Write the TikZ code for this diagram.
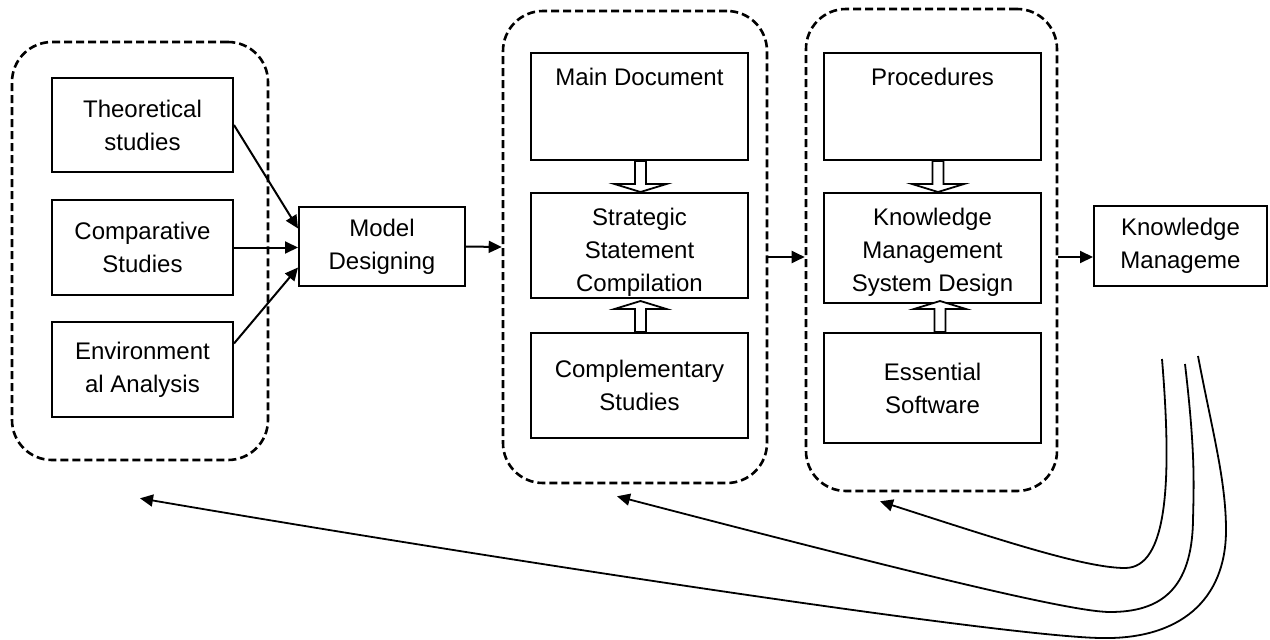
\documentclass[tikz,border=0pt]{standalone}
\usepackage{fontspec}
\setmainfont{Liberation Sans}
\usetikzlibrary{arrows.meta,calc}
\newcommand{\boxfont}{\fontsize{24}{33}\selectfont}
\newcommand{\hollowdown}[2]{\draw[hollow] ($(#1)+(#2-5.5,0)$) -- ++(0,23) -- ++(-20.5,0) -- ++(26,8) -- ++(26,-8) -- ++(-20.5,0) -- ++(0,-23) -- cycle;}
\newcommand{\hollowup}[2]{\draw[hollow] ($(#1)+(#2-5.5,0)$) -- ++(0,-23) -- ++(-20.5,0) -- ++(26,-8) -- ++(26,8) -- ++(-20.5,0) -- ++(0,23) -- cycle;}

\begin{document}
\begin{tikzpicture}[x=1pt,y=-1pt,>={Triangle[length=13pt,width=12pt]},
box/.style={draw,line width=2pt,align=center,inner sep=0pt,font=\boxfont},
group/.style={draw,line width=2.6pt,dash pattern=on 8pt off 4pt,rounded corners=40pt,inner sep=0pt},
hollow/.style={draw,line width=1.8pt,fill=white},
arr/.style={->,line width=2pt},
fb/.style={->,line width=1.8pt}]
\useasboundingbox (0,0) rectangle (1270,640);
% dashed groups
\node[group,minimum width=256pt,minimum height=418pt] (grpA) at (140,251) {};
\node[group,minimum width=264pt,minimum height=472pt] (grpB) at (635,247) {};
\node[group,minimum width=251pt,minimum height=482pt] (grpC) at (931.5,250) {};
% first group
\node[box,minimum width=181pt,minimum height=94pt] (theo) at (142.5,125) {Theoretical\\studies};
\node[box,minimum width=181pt,minimum height=95pt] (comp) at (142.5,247.5) {Comparative\\Studies};
\node[box,minimum width=181pt,minimum height=95pt] (env) at (142.5,369.5) {Environment\\al Analysis};
\node[box,minimum width=166pt,minimum height=79pt] (model) at (382,246.5) {Model\\Designing};
% second group
\node[box,minimum width=217pt,text height=32pt,text depth=75pt] (maindoc) at (639.5,106.5) {Main Document};
\node[box,minimum width=217pt,minimum height=105pt] (strat) at (639.5,245.5) {\rule{0pt}{30pt}Strategic\\Statement\\Compilation};
\node[box,minimum width=217pt,minimum height=105pt] (compl) at (639.5,385.5) {Complementary\\Studies};
% third group
\node[box,minimum width=217pt,text height=32pt,text depth=75pt] (proc) at (932.5,106.5) {Procedures};
\node[box,minimum width=217pt,minimum height=110pt] (kmsd) at (932.5,248) {\rule{0pt}{26pt}Knowledge\\Management\\System Design};
\node[box,minimum width=217pt,minimum height=110pt] (soft) at (932.5,388) {Essential\\Software};
\node[box,minimum width=173pt,minimum height=80pt] (km) at (1180.5,246) {Knowledge\\Manageme};
% hollow arrows
\hollowdown{maindoc.south}{1}
\hollowup{compl.north}{1}
\hollowdown{proc.south}{5.5}
\hollowup{soft.north}{7.5}
% arrows
\draw[arr] (theo.east) -- ([yshift=18pt]model.west);
\draw[arr] (comp.east) -- (comp.east -| model.west);
\draw[arr] ([yshift=26pt]env.east) -- ([yshift=-21pt]model.west);
\draw[arr] (model.east) -- (grpB.west);
\coordinate (j) at ([yshift=-7pt]grpC.west);
\draw[arr] (j -| grpB.east) -- (j);
\coordinate (k) at ([yshift=-11pt]km.west);
\draw[arr] (k -| grpC.east) -- (k);
% feedback
\coordinate (s1) at ([shift={(-18.5pt,-72pt)}]km.south);
\coordinate (s2) at ([shift={(4.5pt,-77pt)}]km.south);
\coordinate (s3) at ([shift={(17.5pt,-69pt)}]km.south);
\coordinate (fbA) at ([yshift=-37pt]grpA.south);
\coordinate (fbB) at ([shift={(-18pt,-12pt)}]grpB.south);
\coordinate (fbC) at ([shift={(-51.5pt,-9pt)}]grpC.south);
\draw[fb] (s1) .. controls (1172,480) and (1168,568) .. (1125,568) .. controls (1085,568) and (1000,540) .. (fbC);
\draw[fb] (s2) .. controls (1195,450) and (1194,480) .. (1193,520) .. controls (1192,590) and (1160,612) .. (1110,612) .. controls (1070,612) and (900,570) .. (fbB);
\draw[fb] (s3) .. controls (1212,430) and (1226,480) .. (1226,530) .. controls (1226,600) and (1180,640) .. (1100,638) .. controls (1000,636) and (500,560) .. (fbA);
\end{tikzpicture}
\end{document}
